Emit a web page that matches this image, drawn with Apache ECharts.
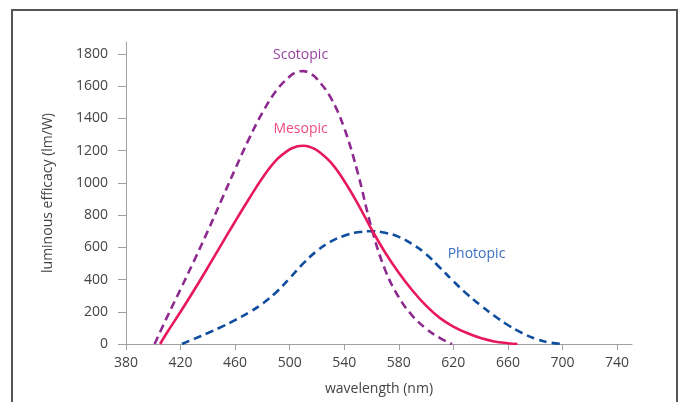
<!DOCTYPE html>
<html>
<head>
<meta charset="utf-8">
<script src="https://cdn.jsdelivr.net/npm/echarts@6/dist/echarts.min.js"></script>
<style>
html,body{margin:0;padding:0;background:#fff;}
#chart{width:681px;height:402px;}
</style>
</head>
<body>
<div id="chart"></div>
<script>
// ---- data ----
const xTicks = [380, 420, 460, 500, 540, 580, 620, 660, 700, 740];
const yTicks = [0, 200, 400, 600, 800, 1000, 1200, 1400, 1600, 1800];

const scotopicNm  = [401, 410, 420, 430, 440, 450, 460, 470, 480, 490, 500, 505, 510, 515, 520, 530, 540, 550, 560, 570, 580, 590, 600, 610, 619];
const scotopicVal = [0, 165, 340, 518, 702, 893, 1085, 1270, 1435, 1570, 1660, 1687, 1693, 1679, 1645, 1530, 1340, 1060, 720, 460, 290, 175, 95, 38, 0];

const mesopicNm  = [405, 410, 420, 430, 440, 450, 460, 470, 480, 490, 500, 505, 510, 515, 520, 530, 540, 550, 560, 570, 580, 590, 600, 610, 620, 630, 640, 650, 660, 667];
const mesopicVal = [0, 70, 200, 335, 475, 618, 760, 898, 1030, 1140, 1208, 1225, 1230, 1222, 1202, 1128, 1012, 870, 712, 568, 442, 332, 238, 162, 108, 68, 37, 16, 5, 0];

const photopicNm  = [421, 430, 440, 450, 460, 470, 480, 490, 500, 510, 520, 530, 540, 550, 560, 570, 580, 590, 600, 610, 620, 630, 640, 650, 660, 670, 680, 690, 700];
const photopicVal = [0, 32, 68, 106, 148, 195, 250, 320, 408, 500, 578, 635, 672, 693, 700, 690, 665, 620, 558, 475, 390, 310, 240, 175, 118, 70, 33, 10, 0];

const seriesNames = ['Scotopic', 'Mesopic', 'Photopic'];
const labelPos = [[508, 1794], [508, 1332], [637, 561]];

const xName = 'wavelength (nm)';
const yName = 'luminous efficacy (lm/W)';

// ---- chart ----
const pairs = (xs, ys) => xs.map((x, i) => [x, ys[i]]);
const FONT = '"Open Sans", "Noto Sans", sans-serif';
const lineCols = ['#8e2a8f', '#e8185c', '#0f4e9e'];
const textCols = ['#9a42a0', '#f04a7c', '#3c6fbf'];
const dashes = ['dashed', 'solid', 'dashed'];
const datasets = [pairs(scotopicNm, scotopicVal), pairs(mesopicNm, mesopicVal), pairs(photopicNm, photopicVal)];

const chart = echarts.init(document.getElementById('chart'), null, {renderer: 'canvas'});
chart.setOption({
  animation: false,
  backgroundColor: '#fff',
  grid: {left: 126, top: 42, right: 49, bottom: 58},
  graphic: [{
    type: 'rect',
    shape: {x: 12, y: 10, width: 665, height: 420},
    style: {fill: 'none', stroke: '#555', lineWidth: 2},
    silent: true
  }],
  xAxis: {
    type: 'value', min: 380, max: 751,
    name: xName, nameLocation: 'middle', nameGap: 38,
    nameTextStyle: {color: '#444', fontSize: 14, fontFamily: FONT},
    axisLine: {show: true, lineStyle: {color: '#a0a0a0', width: 1}},
    axisTick: {show: true, length: 6, customValues: xTicks, lineStyle: {color: '#a0a0a0'}},
    axisLabel: {customValues: xTicks, color: '#444', fontSize: 14, fontFamily: FONT, margin: 12,
                formatter: v => String(v)},
    splitLine: {show: false}
  },
  yAxis: {
    type: 'value', min: 0, max: 1874,
    name: yName, nameLocation: 'middle', nameGap: 71, nameRotate: 90,
    nameTextStyle: {color: '#444', fontSize: 14, fontFamily: FONT},
    axisLine: {show: true, lineStyle: {color: '#a0a0a0', width: 1}},
    axisTick: {show: true, length: 8, customValues: yTicks, lineStyle: {color: '#a0a0a0'}},
    axisLabel: {customValues: yTicks, color: '#444', fontSize: 14, fontFamily: FONT, margin: 18,
                formatter: v => String(v)},
    splitLine: {show: false}
  },
  series: seriesNames.map((name, i) => ({
    name: name,
    type: 'line',
    data: datasets[i],
    smooth: 0.4,
    showSymbol: false,
    symbol: 'none',
    lineStyle: {color: lineCols[i], width: 2.6, type: dashes[i] === 'dashed' ? [8, 5] : 'solid'},
    z: i === 1 ? 3 : 2,
    markPoint: {
      symbol: 'rect', symbolSize: [1, 1],
      itemStyle: {color: 'rgba(0,0,0,0)'},
      label: {show: true, position: 'inside', formatter: name, color: textCols[i], fontSize: 14, fontFamily: FONT},
      data: [{coord: labelPos[i]}]
    }
  }))
});
</script>
</body>
</html>
